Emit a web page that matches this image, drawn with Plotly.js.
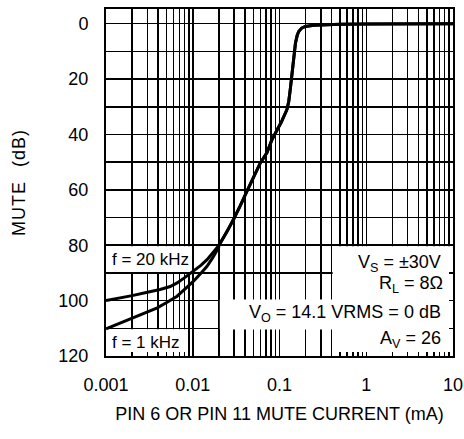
<!DOCTYPE html>
<html>
<head>
<meta charset="utf-8">
<script src="https://cdn.plot.ly/plotly-3.0.1.min.js"></script>
<style>
  html, body { margin: 0; padding: 0; background: #fff; }
  #chart { width: 464px; height: 439px; }
  .ytitle { letter-spacing: 1px; word-spacing: 8px; }
</style>
</head>
<body>
<div id="chart"></div>
<script>
// Low-current branch of the f = 20 kHz curve (current in mA, mute in dB)
const current20k = [0.001, 0.0015, 0.002, 0.003, 0.0042, 0.0055, 0.0066, 0.008, 0.0102, 0.0125, 0.0146, 0.017, 0.0199];
const mute20k    = [100, 99.1, 98.2, 97.0, 96.0, 94.9, 93.6, 91.8, 89.4, 87.2, 85.2, 82.9, 80.2];

// Low-current branch of the f = 1 kHz curve
const current1k = [0.001, 0.0015, 0.002, 0.003, 0.0039, 0.005, 0.0066, 0.008, 0.0102, 0.0125, 0.0146, 0.017, 0.0199];
const mute1k    = [110.2, 108.0, 106.5, 104.2, 102.6, 100.7, 98.4, 96.0, 93.0, 90.0, 87.6, 84.5, 80.8];

// Shared upper branch (both frequencies coincide)
const currentShared = [0.0199, 0.025, 0.0295, 0.035, 0.0421, 0.05, 0.0601, 0.0718, 0.0818, 0.0934, 0.105, 0.1218, 0.128, 0.133, 0.1425, 0.1528, 0.16, 0.1667, 0.18, 0.198, 0.25, 0.324, 0.5, 1, 2, 5, 10];
const muteShared    = [80.2, 75, 70.8, 66, 60.5, 55.5, 50.3, 46.5, 41.9, 38.5, 35.5, 31, 28, 23.8, 14.2, 7.0, 4.2, 2.8, 1.6, 1.0, 0.6, 0.4, 0.25, 0.15, 0.1, 0.05, 0];

const xTickVals = [0.001, 0.01, 0.1, 1, 10];
const xTickText = ['0.001', '0.01', '0.1', '1', '10'];
const yTickVals = [0, 20, 40, 60, 80, 100, 120];

const labels = {
  f20: 'f = 20 kHz',
  f1: 'f = 1 kHz',
  vs: 'V<sub>S</sub> = ±30V',
  rl: 'R<sub>L</sub> = 8Ω',
  vo: 'V<sub>O</sub> = 14.1 VRMS = 0 dB',
  av: 'A<sub>V</sub> = 26'
};

const FONT = '"Liberation Sans", Arial, sans-serif';
const lineStyle = { color: '#000', width: 3 };

const traces = [
  { x: current20k.concat(currentShared), y: mute20k.concat(muteShared), mode: 'lines', line: lineStyle, name: 'f = 20 kHz', hoverinfo: 'skip' },
  { x: current1k.concat(currentShared), y: mute1k.concat(muteShared), mode: 'lines', line: lineStyle, name: 'f = 1 kHz', hoverinfo: 'skip' }
];

function box(x0, x1, y0, y1) {
  return { type: 'rect', xref: 'x', yref: 'y', x0: x0, x1: x1, y0: y0, y1: y1,
           fillcolor: '#fff', line: { width: 0 }, layer: 'between' };
}

const annFont = { family: FONT, size: 18, color: '#000' };

const layout = {
  width: 464, height: 439,
  margin: { l: 106, r: 11, t: 9, b: 83 },
  paper_bgcolor: '#fff', plot_bgcolor: '#fff',
  showlegend: false,
  font: { family: FONT, size: 18, color: '#000' },
  xaxis: {
    type: 'log', range: [-3, 1],
    tickvals: xTickVals, ticktext: xTickText,
    ticks: 'inside', ticklen: 4, tickwidth: 1.5, tickcolor: '#000',
    ticklabelstandoff: 11,
    showgrid: true, gridcolor: '#000', gridwidth: 1.5,
    minor: { dtick: 'D1', ticks: 'inside', ticklen: 4, tickwidth: 1.5, tickcolor: '#000', showgrid: true, gridcolor: '#000', gridwidth: 1.5 },
    showline: true, linecolor: '#000', linewidth: 2, mirror: 'ticks',
    zeroline: false,
    tickfont: { family: FONT, size: 18, color: '#000' },
    title: { text: 'PIN 6 OR PIN 11 MUTE CURRENT (mA)', font: { family: FONT, size: 18, color: '#000' }, standoff: 14 }
  },
  yaxis: {
    range: [120, -5.3],
    tickvals: yTickVals,
    ticks: 'inside', ticklen: 4, tickwidth: 1.5, tickcolor: '#000',
    ticklabelstandoff: 12,
    showgrid: true, gridcolor: '#000', gridwidth: 1.5,
    minor: { dtick: 10, ticks: 'inside', ticklen: 4, tickwidth: 1.5, tickcolor: '#000', showgrid: true, gridcolor: '#000', gridwidth: 1.5 },
    showline: true, linecolor: '#000', linewidth: 2, mirror: 'ticks',
    zeroline: false,
    tickfont: { family: FONT, size: 18, color: '#000' },
    title: { text: 'MUTE (dB)', font: { family: FONT, size: 18, color: '#000' }, standoff: 28 }
  },
  shapes: [
    box(0.001, 0.0097, 80.35, 89.65),
    box(0.001, 0.0087, 110.35, 120),
    box(0.0205, 10, 99.6, 110.4),
    box(0.41, 10, 80.35, 120)
  ],
  annotations: [
    { text: labels.f20, xref: 'paper', x: 0, xanchor: 'left', xshift: 4, yref: 'y', y: 85, yanchor: 'middle', showarrow: false, font: { family: FONT, size: 17, color: '#000' } },
    { text: labels.f1, xref: 'paper', x: 0, xanchor: 'left', xshift: 4, yref: 'y', y: 115, yanchor: 'middle', showarrow: false, font: { family: FONT, size: 17, color: '#000' } },
    { text: labels.vs, xref: 'paper', x: 1, xanchor: 'right', xshift: -10, yref: 'y', y: 86.5, yanchor: 'middle', showarrow: false, font: annFont },
    { text: labels.rl, xref: 'paper', x: 1, xanchor: 'right', xshift: -8, yref: 'y', y: 94, yanchor: 'middle', showarrow: false, font: annFont },
    { text: labels.vo, xref: 'paper', x: 1, xanchor: 'right', xshift: -10, yref: 'y', y: 104.5, yanchor: 'middle', showarrow: false, font: annFont },
    { text: labels.av, xref: 'paper', x: 1, xanchor: 'right', xshift: -10, yref: 'y', y: 114, yanchor: 'middle', showarrow: false, font: annFont }
  ]
};

Plotly.newPlot('chart', traces, layout, { staticPlot: true, displayModeBar: false });
</script>
</body>
</html>
